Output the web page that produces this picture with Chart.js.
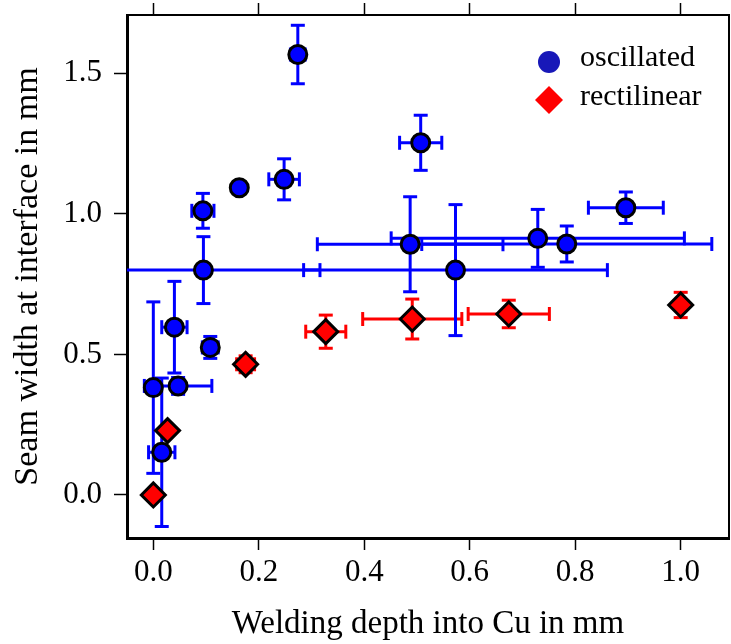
<!DOCTYPE html>
<html><head><meta charset="utf-8">
<script src="https://cdn.jsdelivr.net/npm/chart.js@4/dist/chart.umd.min.js"></script>
<style>html,body{margin:0;padding:0;background:#fff}</style>
</head><body>
<canvas id="c" width="731" height="644"></canvas>
<script>
// oscillated (blue circles)
const oscX=[0.274,0.507,0.248,0.163,0.094,0.095,0.487,0.729,0.784,0.573,0.896,0.040,0.108,0.000,0.047,0.016];
const oscY=[1.567,1.253,1.123,1.093,1.011,0.800,0.892,0.913,0.893,0.800,1.022,0.597,0.525,0.382,0.388,0.152];
const oscXErr=[0.014,0.040,0.029,0,0.021,0.221,0.176,0.278,0.275,0.288,0.071,0.024,0.015,0,0.064,0.025];
const oscYErr=[0.104,0.098,0.073,0,0.062,0.119,0.169,0.103,0.064,0.233,0.056,0.163,0.039,0.305,0.030,0.264];
// rectilinear (red diamonds)
const recX=[0.000,0.027,0.175,0.327,0.491,0.674,1.000];
const recY=[0.000,0.229,0.465,0.581,0.626,0.644,0.676];
const recXErr=[0,0,0.017,0.038,0.094,0.077,0];
const recYErr=[0,0,0.030,0.059,0.071,0.049,0.045];
const xTicks=[0,0.2,0.4,0.6,0.8,1.0];
const yTicks=[0,0.5,1.0,1.5];

const FONT='"Liberation Serif","Times New Roman",serif';

const pts=(xs,ys)=>xs.map((v,i)=>({x:v,y:ys[i]}));
const noPad=s=>{s.paddingLeft=0;s.paddingRight=0;s.paddingTop=0;s.paddingBottom=0;};

const errorBars={
  id:'errorBars',
  beforeDatasetsDraw(chart){
    const {ctx,chartArea:a,scales:{x,y}}=chart;
    ctx.save();
    ctx.beginPath();ctx.rect(a.left,a.top,a.right-a.left,a.bottom-a.top);ctx.clip();
    const seg=(x1,y1,x2,y2)=>{ctx.beginPath();ctx.moveTo(x1,y1);ctx.lineTo(x2,y2);ctx.stroke();};
    [...chart.data.datasets].reverse().forEach(ds=>{
      ctx.strokeStyle=ds.errColor;ctx.lineWidth=3;
      ds.data.forEach((p,i)=>{
        const px=x.getPixelForValue(p.x),py=y.getPixelForValue(p.y);
        const xe=ds.xErr[i],ye=ds.yErr[i],c=7;
        if(ye>0){
          const t=y.getPixelForValue(p.y+ye),b=y.getPixelForValue(p.y-ye);
          seg(px,t,px,b);seg(px-c,t,px+c,t);seg(px-c,b,px+c,b);
        }
        if(xe>0){
          const l=x.getPixelForValue(p.x-xe),r=x.getPixelForValue(p.x+xe);
          seg(l,py,r,py);seg(l,py-c,l,py+c);seg(r,py-c,r,py+c);
        }
      });
    });
    ctx.restore();
  }
};

const frameAndLegend={
  id:'frameAndLegend',
  afterDraw(chart){
    const {ctx,chartArea:a}=chart;
    ctx.save();
    ctx.strokeStyle='#000';
    ctx.lineWidth=2;
    ctx.beginPath();ctx.moveTo(a.right,a.top);ctx.lineTo(a.right,a.bottom);ctx.stroke();
    // legend
    ctx.fillStyle='#1818b8';
    ctx.beginPath();ctx.arc(549,62,11,0,Math.PI*2);ctx.fill();
    ctx.fillStyle='#ff0000';
    ctx.beginPath();ctx.moveTo(549,86);ctx.lineTo(563,100);ctx.lineTo(549,114);ctx.lineTo(535,100);ctx.closePath();ctx.fill();
    ctx.fillStyle='#000';
    ctx.font='30px '+FONT;
    ctx.textBaseline='alphabetic';
    ctx.fillText(chart.data.datasets[0].label,580,66);
    ctx.fillText(chart.data.datasets[1].label,580,105);
    ctx.restore();
  }
};

new Chart(document.getElementById('c'),{
  type:'scatter',
  data:{datasets:[
    {label:'oscillated',data:pts(oscX,oscY),xErr:oscXErr,yErr:oscYErr,errColor:'#0000ff',
     pointStyle:'circle',pointRadius:9,pointBorderWidth:3,backgroundColor:'#0000ff',borderColor:'#000'},
    {label:'rectilinear',data:pts(recX,recY),xErr:recXErr,yErr:recYErr,errColor:'#ff0000',
     pointStyle:'rectRot',pointRadius:12,pointBorderWidth:3,backgroundColor:'#ff0000',borderColor:'#000'}
  ]},
  options:{
    responsive:false,animation:false,devicePixelRatio:1,
    layout:{autoPadding:false,padding:{left:0,right:2,top:0,bottom:0}},
    plugins:{legend:{display:false},tooltip:{enabled:false}},
    scales:{
      x:{type:'linear',position:'bottom',min:-0.0499,max:1.0916,
        afterBuildTicks:s=>{s.ticks=xTicks.map(v=>({value:v}));},
        afterFit:s=>{s.height=106;noPad(s);},
        grid:{drawOnChartArea:false,tickLength:12,tickWidth:1.5,tickColor:'#000'},
        border:{display:true,color:'#000',width:3},
        ticks:{color:'#000',font:{family:FONT,size:31},padding:4,maxRotation:0,callback:v=>v.toFixed(1)},
        title:{display:true,text:'Welding depth into Cu in mm',color:'#000',font:{family:FONT,size:33},padding:{top:0,bottom:0}}},
      xTop:{type:'linear',position:'top',min:-0.0499,max:1.0916,
        afterBuildTicks:s=>{s.ticks=xTicks.map(v=>({value:v}));},
        afterFit:s=>{s.height=15;noPad(s);},
        grid:{drawOnChartArea:false,tickLength:12,tickWidth:1.5,tickColor:'#000'},
        border:{display:true,color:'#000',width:2},
        ticks:{display:true,color:'rgba(0,0,0,0)',callback:()=>''}},
      y:{type:'linear',position:'left',min:-0.153,max:1.7076,
        afterBuildTicks:s=>{s.ticks=yTicks.map(v=>({value:v}));},
        afterFit:s=>{s.width=127;noPad(s);},
        grid:{drawOnChartArea:false,tickLength:13,tickWidth:1.5,tickColor:'#000'},
        border:{display:true,color:'#000',width:3},
        ticks:{color:'#000',font:{family:FONT,size:31},padding:12,callback:v=>v.toFixed(1)},
        title:{display:true,text:'Seam width at interface in mm',color:'#000',font:{family:FONT,size:34},padding:{top:8,bottom:0}}}
    }
  },
  plugins:[errorBars,frameAndLegend]
});
</script>
</body></html>
